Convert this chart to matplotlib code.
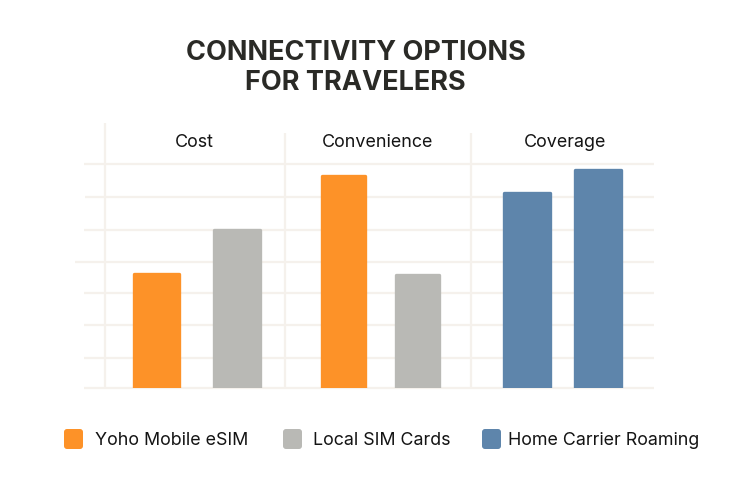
import matplotlib
matplotlib.use("Agg")
import matplotlib.pyplot as plt
from matplotlib.patches import FancyBboxPatch

W, H = 750, 500
plt.rcParams['font.family'] = ['Inter', 'DejaVu Sans']

title_lines = ["CONNECTIVITY OPTIONS", "FOR TRAVELERS"]
categories = ["Cost", "Convenience", "Coverage"]
series_names = ["Yoho Mobile eSIM", "Local SIM Cards", "Home Carrier Roaming"]
series_colors = ["#FD9228", "#B9B9B5", "#5E85AB"]

bar_group = [0, 0, 1, 1, 2, 2]
bar_offset = [-0.224, 0.217, -0.20, 0.20, -0.20, 0.19]
bar_width = [0.25, 0.25, 0.235, 0.235, 0.25, 0.253]
bar_series = [0, 1, 0, 1, 2, 2]
bar_values = [3.57, 4.94, 6.61, 3.54, 6.10, 6.80]

grid_values = [0, 0.94, 1.97, 2.97, 3.94, 4.94, 5.97, 7]
grid_left_px = [84, 84, 84, 84, 75, 84, 85, 84]
separators = [-0.503, 0.48, 1.497]
separator_top = [8.28, 7.97, 7.97]
GRID = "#F5F1EC"

fig = plt.figure(figsize=(W / 100, H / 100), dpi=100)
fig.patch.set_facecolor("white")

# axes: plot area, 0 at pixel y=388, 7 at pixel y=164
L, R, T, B = 60, 690, 110, 388
ax = fig.add_axes([L / W, 1 - B / H, (R - L) / W, (B - T) / H])
PX = 183.0
ax.set_xlim((L - 197.5) / PX, (R - 197.5) / PX)
ax.set_ylim(0, (B - T) / 32.0)
ax.axis("off")

for v, lp in zip(grid_values, grid_left_px):
    ax.hlines(v, (lp - 197.5) / PX, (654 - 197.5) / PX, color=GRID, lw=1.6, zorder=1, clip_on=False)
for s, top in zip(separators, separator_top):
    ax.vlines(s, 0, top, color=GRID, lw=1.6, zorder=1)

for g, o, w, si, v in zip(bar_group, bar_offset, bar_width, bar_series, bar_values):
    ax.bar(g + o, v, width=w, color=series_colors[si], edgecolor=series_colors[si],
           linewidth=2.4, joinstyle="round", zorder=3)

label_shift = [-0.015, -0.015, 0.01]
for i, c in enumerate(categories):
    ax.text(i + label_shift[i], (388 - 147) / 32.0, c, ha="center", va="baseline",
            fontsize=12.9, color="#141414", zorder=4)

for line, yp in zip(title_lines, [52.5, 83]):
    fig.text(355.5 / W, 1 - yp / H, line, ha="center", va="center", fontsize=19.5,
             fontweight="bold", color="#2a2a26")

# legend
swatch_left = [64, 283, 482]
text_left = [95, 313, 508]
for name, col, sx, tx in zip(series_names, series_colors, swatch_left, text_left):
    fig.add_artist(FancyBboxPatch((sx + 2, 431), 15, 16, boxstyle="round,pad=2,rounding_size=3",
                                  transform=matplotlib.transforms.Affine2D().scale(1 / W, -1 / H).translate(0, 1) + fig.transFigure,
                                  fc=col, ec="none"))
    fig.text(tx / W, 1 - 445 / H, name, ha="left", va="baseline", fontsize=12.85, color="#141414")

fig.savefig("out.png", dpi=100, facecolor="white")
